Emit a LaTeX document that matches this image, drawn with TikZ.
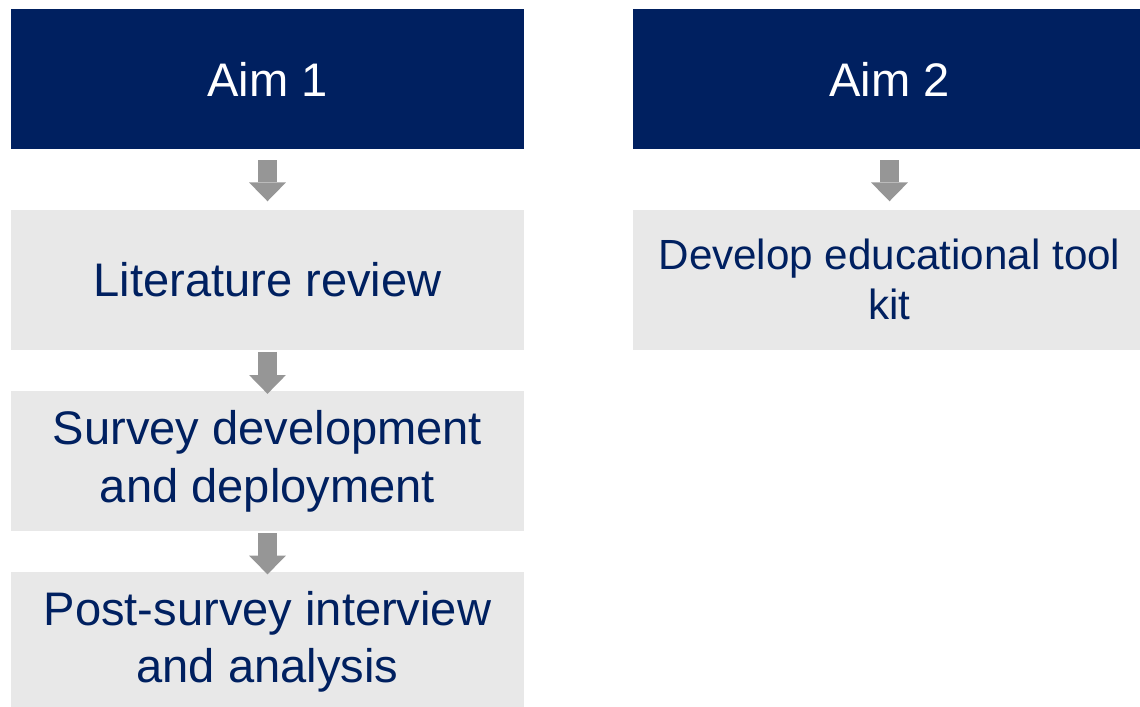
\documentclass[tikz,border=0pt]{standalone}
\usepackage{fontspec}
\setmainfont{Liberation Sans}
\usetikzlibrary{positioning, arrows.meta}
\definecolor{aimblue}{HTML}{002060}
\definecolor{taskgray}{HTML}{E8E8E8}
\definecolor{flowgray}{HTML}{969696}
\tikzset{>=latex}
\tikzset{
	aimbox/.style={fill=aimblue, text=white, minimum width=12.825cm, minimum height=3.5cm, inner sep=0pt, font=\fontsize{33.5}{40}\selectfont},
	taskbox/.style={fill=taskgray, text=aimblue, minimum width=12.825cm, minimum height=3.5cm, inner sep=0pt, align=center, font=\fontsize{33.5}{41}\selectfont},
	flow/.style={draw=flowgray, line width=0.47cm, -{Triangle[width=0.92cm, length=0.47cm, line width=0pt]}}
}
\begin{document}
\begin{tikzpicture}
		\useasboundingbox (0,0) rectangle (28.5,17.675);
		% left column
		\node[aimbox] (aimA) at (6.6875,15.7) {Aim 1};
		\node[taskbox, below=1.5cm of aimA] (litrev) {Literature review};
		\node[taskbox, below=1.025cm of litrev] (survey) {Survey development\\and deployment};
		\node[taskbox, below=1cm of survey] (postsurv) {Post-survey interview\\and analysis};
		% right column
		\node[aimbox] (aimB) at (22.2375,15.7) {Aim 2};
		\node[taskbox, below=1.5cm of aimB, font=\fontsize{30}{35.5}\selectfont] (toolkit) {Develop educational tool\\kit};
		% arrows
		\draw[flow, shorten <=0.275cm, shorten >=0.2cm] (aimA) -- (litrev);
		\draw[flow, shorten <=0.05cm, shorten >=-0.075cm] (litrev) -- (survey);
		\draw[flow, shorten <=0.05cm, shorten >=-0.075cm] (survey) -- (postsurv);
		\draw[flow, shorten <=0.275cm, shorten >=0.2cm] (aimB) -- (toolkit);
	\end{tikzpicture}
\end{document}
